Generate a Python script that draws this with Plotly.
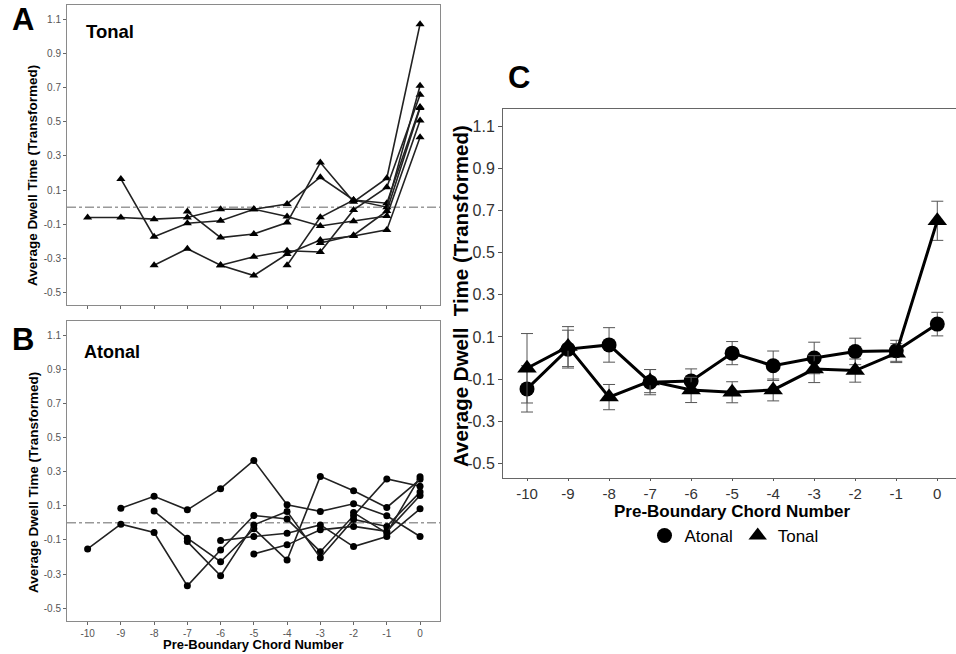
import plotly.graph_objects as go

# ---------------- data ----------------
chords = [-10, -9, -8, -7, -6, -5, -4, -3, -2, -1, 0]
x_tick_labels = ["-10", "-9", "-8", "-7", "-6", "-5", "-4", "-3", "-2", "-1", "0"]
y_ticks = [-0.5, -0.3, -0.1, 0.1, 0.3, 0.5, 0.7, 0.9, 1.1]
y_tick_labels = ["-0.5", "-0.3", "-0.1", "0.1", "0.3", "0.5", "0.7", "0.9", "1.1"]

# Panel A: individual tonal pieces (None = no chord at that position)
tonal_1 = [-0.06, -0.06, -0.07, -0.06, -0.012, -0.012, 0.019, 0.175, 0.042, 0.023, 0.585]
tonal_2 = [None, 0.165, -0.173, -0.094, -0.079, -0.012, -0.055, -0.110, -0.083, -0.052, 0.507]
tonal_3 = [None, None, -0.34, -0.243, -0.34, -0.40, -0.274, -0.192, -0.169, -0.133, 0.409]
tonal_4 = [None, None, None, -0.026, -0.178, -0.157, -0.09, 0.261, 0.031, 0.169, 1.07]
tonal_5 = [None, None, None, None, -0.34, -0.29, -0.255, -0.262, -0.016, 0.117, 0.657]
tonal_6 = [None, None, None, None, None, None, -0.34, -0.059, 0.042, 0.0, 0.71]
tonal_7 = [None, None, None, None, None, None, None, -0.21, -0.164, -0.022, 0.58]

# Panel B: individual atonal pieces
atonal_1 = [-0.153, -0.008, -0.057, -0.369, -0.159, 0.043, 0.022, -0.169, 0.041, 0.257, 0.214]
atonal_2 = [None, 0.086, 0.155, 0.076, 0.200, 0.365, 0.106, 0.067, 0.112, 0.041, -0.080]
atonal_3 = [None, None, 0.069, -0.090, -0.228, -0.035, -0.218, 0.272, 0.188, 0.090, 0.255]
atonal_4 = [None, None, None, -0.110, -0.310, -0.012, 0.067, -0.204, 0.020, -0.021, 0.180]
atonal_5 = [None, None, None, None, -0.104, -0.080, -0.061, -0.012, -0.139, -0.080, 0.082]
atonal_6 = [None, None, None, None, None, -0.182, -0.129, -0.041, -0.021, -0.050, 0.160]
atonal_7 = [None, None, None, None, None, None, None, None, 0.060, -0.060, 0.270]

# Panel C: means and error bars
atonal_mean = [-0.147, 0.042, 0.062, -0.115, -0.109, 0.023, -0.037, 0.0, 0.031, 0.034, 0.161]
atonal_err = [0.11, 0.09, 0.082, 0.06, 0.057, 0.055, 0.07, 0.075, 0.063, 0.05, 0.056]
tonal_mean = [-0.049, 0.054, -0.186, -0.11, -0.152, -0.163, -0.152, -0.053, -0.06, 0.023, 0.652]
tonal_err = [0.165, 0.095, 0.06, 0.055, 0.06, 0.05, 0.052, 0.064, 0.055, 0.045, 0.093]

# ---------------- layout helpers ----------------
W, H = 956, 654
FONT = "Liberation Sans, Arial, sans-serif"


def px(x):
    return x / W


def py(y):
    return 1 - y / H


fig = go.Figure()

tonal_pieces = [tonal_1, tonal_2, tonal_3, tonal_4, tonal_5, tonal_6, tonal_7]
atonal_pieces = [atonal_1, atonal_2, atonal_3, atonal_4, atonal_5, atonal_6, atonal_7]

for s in tonal_pieces:
    fig.add_trace(go.Scatter(
        x=chords, y=s, mode="lines+markers", xaxis="x", yaxis="y",
        line=dict(color="#222222", width=1.6),
        marker=dict(symbol="triangle-up", size=8, color="black"),
        showlegend=False, connectgaps=False))

for s in atonal_pieces:
    fig.add_trace(go.Scatter(
        x=chords, y=s, mode="lines+markers", xaxis="x2", yaxis="y2",
        line=dict(color="#222222", width=1.6),
        marker=dict(symbol="circle", size=7, color="black"),
        showlegend=False, connectgaps=False))

# Panel C
fig.add_trace(go.Scatter(
    x=chords, y=atonal_mean, mode="lines+markers", xaxis="x3", yaxis="y3",
    line=dict(color="black", width=3),
    marker=dict(symbol="circle", size=15, color="black"),
    error_y=dict(type="data", array=atonal_err, color="#555555", thickness=1, width=6),
    showlegend=False))
fig.add_trace(go.Scatter(
    x=chords, y=tonal_mean, mode="lines+markers", xaxis="x3", yaxis="y3",
    line=dict(color="black", width=3),
    marker=dict(symbol="triangle-up", size=17, color="black"),
    error_y=dict(type="data", array=tonal_err, color="#555555", thickness=1, width=6),
    showlegend=False))

# legend entries (markers only, like the reference key)
fig.add_trace(go.Scatter(x=[None], y=[None], mode="markers", name="Atonal",
                         xaxis="x3", yaxis="y3",
                         marker=dict(symbol="circle", size=15, color="black")))
fig.add_trace(go.Scatter(x=[None], y=[None], mode="markers", name="Tonal",
                         xaxis="x3", yaxis="y3",
                         marker=dict(symbol="triangle-up", size=17, color="black")))

small_axis = dict(showline=True, mirror=True, linecolor="#8a8a8a", linewidth=1,
                  ticks="outside", ticklen=3, tickcolor="#666666",
                  showgrid=False, zeroline=False,
                  tickfont=dict(family=FONT, size=10, color="#555555"))

xr = [-10.62, 0.6]
yr = [-0.572, 1.182]

fig.update_layout(
    width=W, height=H,
    margin=dict(l=0, r=0, t=0, b=0),
    paper_bgcolor="white", plot_bgcolor="white",
    font=dict(family=FONT),
    xaxis=dict(domain=[px(67), px(440)], anchor="y", range=xr,
               tickvals=chords, ticktext=x_tick_labels, showticklabels=False, **small_axis),
    yaxis=dict(domain=[py(305), py(5)], anchor="x", range=yr,
               tickvals=y_ticks, ticktext=y_tick_labels, **small_axis),
    xaxis2=dict(domain=[px(67), px(440)], anchor="y2", range=xr,
                tickvals=chords, ticktext=x_tick_labels, **small_axis),
    yaxis2=dict(domain=[py(620.5), py(321)], anchor="x2", range=yr,
                tickvals=y_ticks, ticktext=y_tick_labels, **small_axis),
    xaxis3=dict(domain=[px(503), 1.0], anchor="y3", range=[-10.585, 0.456],
                tickvals=chords, ticktext=x_tick_labels,
                showline=True, mirror=True, linecolor="#666666", linewidth=1,
                ticks="outside", ticklen=2, tickcolor="#555555",
                showgrid=False, zeroline=False,
                tickfont=dict(family=FONT, size=15, color="#333333")),
    yaxis3=dict(domain=[py(478.3), py(109.3)], anchor="x3", range=yr,
                tickvals=y_ticks, ticktext=y_tick_labels,
                showline=True, mirror=False, linecolor="#666666", linewidth=1,
                ticks="outside", ticklen=4, tickcolor="#555555",
                showgrid=False, zeroline=False,
                tickfont=dict(family=FONT, size=16, color="#333333")),
    legend=dict(orientation="h", x=px(734), y=py(536), xanchor="center", yanchor="middle",
                font=dict(family=FONT, size=17, color="black"),
                itemwidth=30, bgcolor="rgba(0,0,0,0)", tracegroupgap=0),
)

# dash-dot zero reference lines for panels A and B
for xref, yref in [("x domain", "y"), ("x2 domain", "y2")]:
    fig.add_shape(type="line", xref=xref, yref=yref, x0=0, x1=1, y0=0, y1=0,
                  line=dict(color="#666666", width=1, dash="dashdot"), layer="below")

annotations = [
    dict(text="<b>A</b>", x=px(23), y=py(19), size=31, anchor="center"),
    dict(text="<b>B</b>", x=px(23), y=py(340), size=31, anchor="center"),
    dict(text="<b>C</b>", x=px(519), y=py(78), size=31, anchor="center"),
    dict(text="<b>Tonal</b>", x=px(84), y=py(31), size=18.5, anchor="left"),
    dict(text="<b>Atonal</b>", x=px(82), y=py(352), size=18, anchor="left"),
    dict(text="<b>Pre-Boundary Chord Number</b>", x=px(253), y=py(644), size=13, anchor="center"),
    dict(text="<b>Pre-Boundary Chord Number</b>", x=px(732), y=py(511), size=17, anchor="center"),
]
for a in annotations:
    fig.add_annotation(text=a["text"], x=a["x"], y=a["y"], xref="paper", yref="paper",
                       showarrow=False, xanchor=a["anchor"], yanchor="middle",
                       font=dict(family=FONT, size=a["size"], color="black"))

for ytxt, yc, sz, xc in [("Average Dwell Time (Transformed)", 176, 13.5, 33),
                         ("Average Dwell Time (Transformed)", 483, 13.5, 33),
                         ("Average Dwell  Time (Transformed)", 296, 20.5, 460)]:
    fig.add_annotation(text="<b>" + ytxt.replace("  ", "&nbsp; ") + "</b>", x=px(xc), y=py(yc),
                       xref="paper", yref="paper", showarrow=False, textangle=-90,
                       xanchor="center", yanchor="middle",
                       font=dict(family=FONT, size=sz, color="black"))

fig.write_html("out.html", config={"displayModeBar": False},
               post_script="document.body.style.margin='0';document.body.style.padding='0';")
